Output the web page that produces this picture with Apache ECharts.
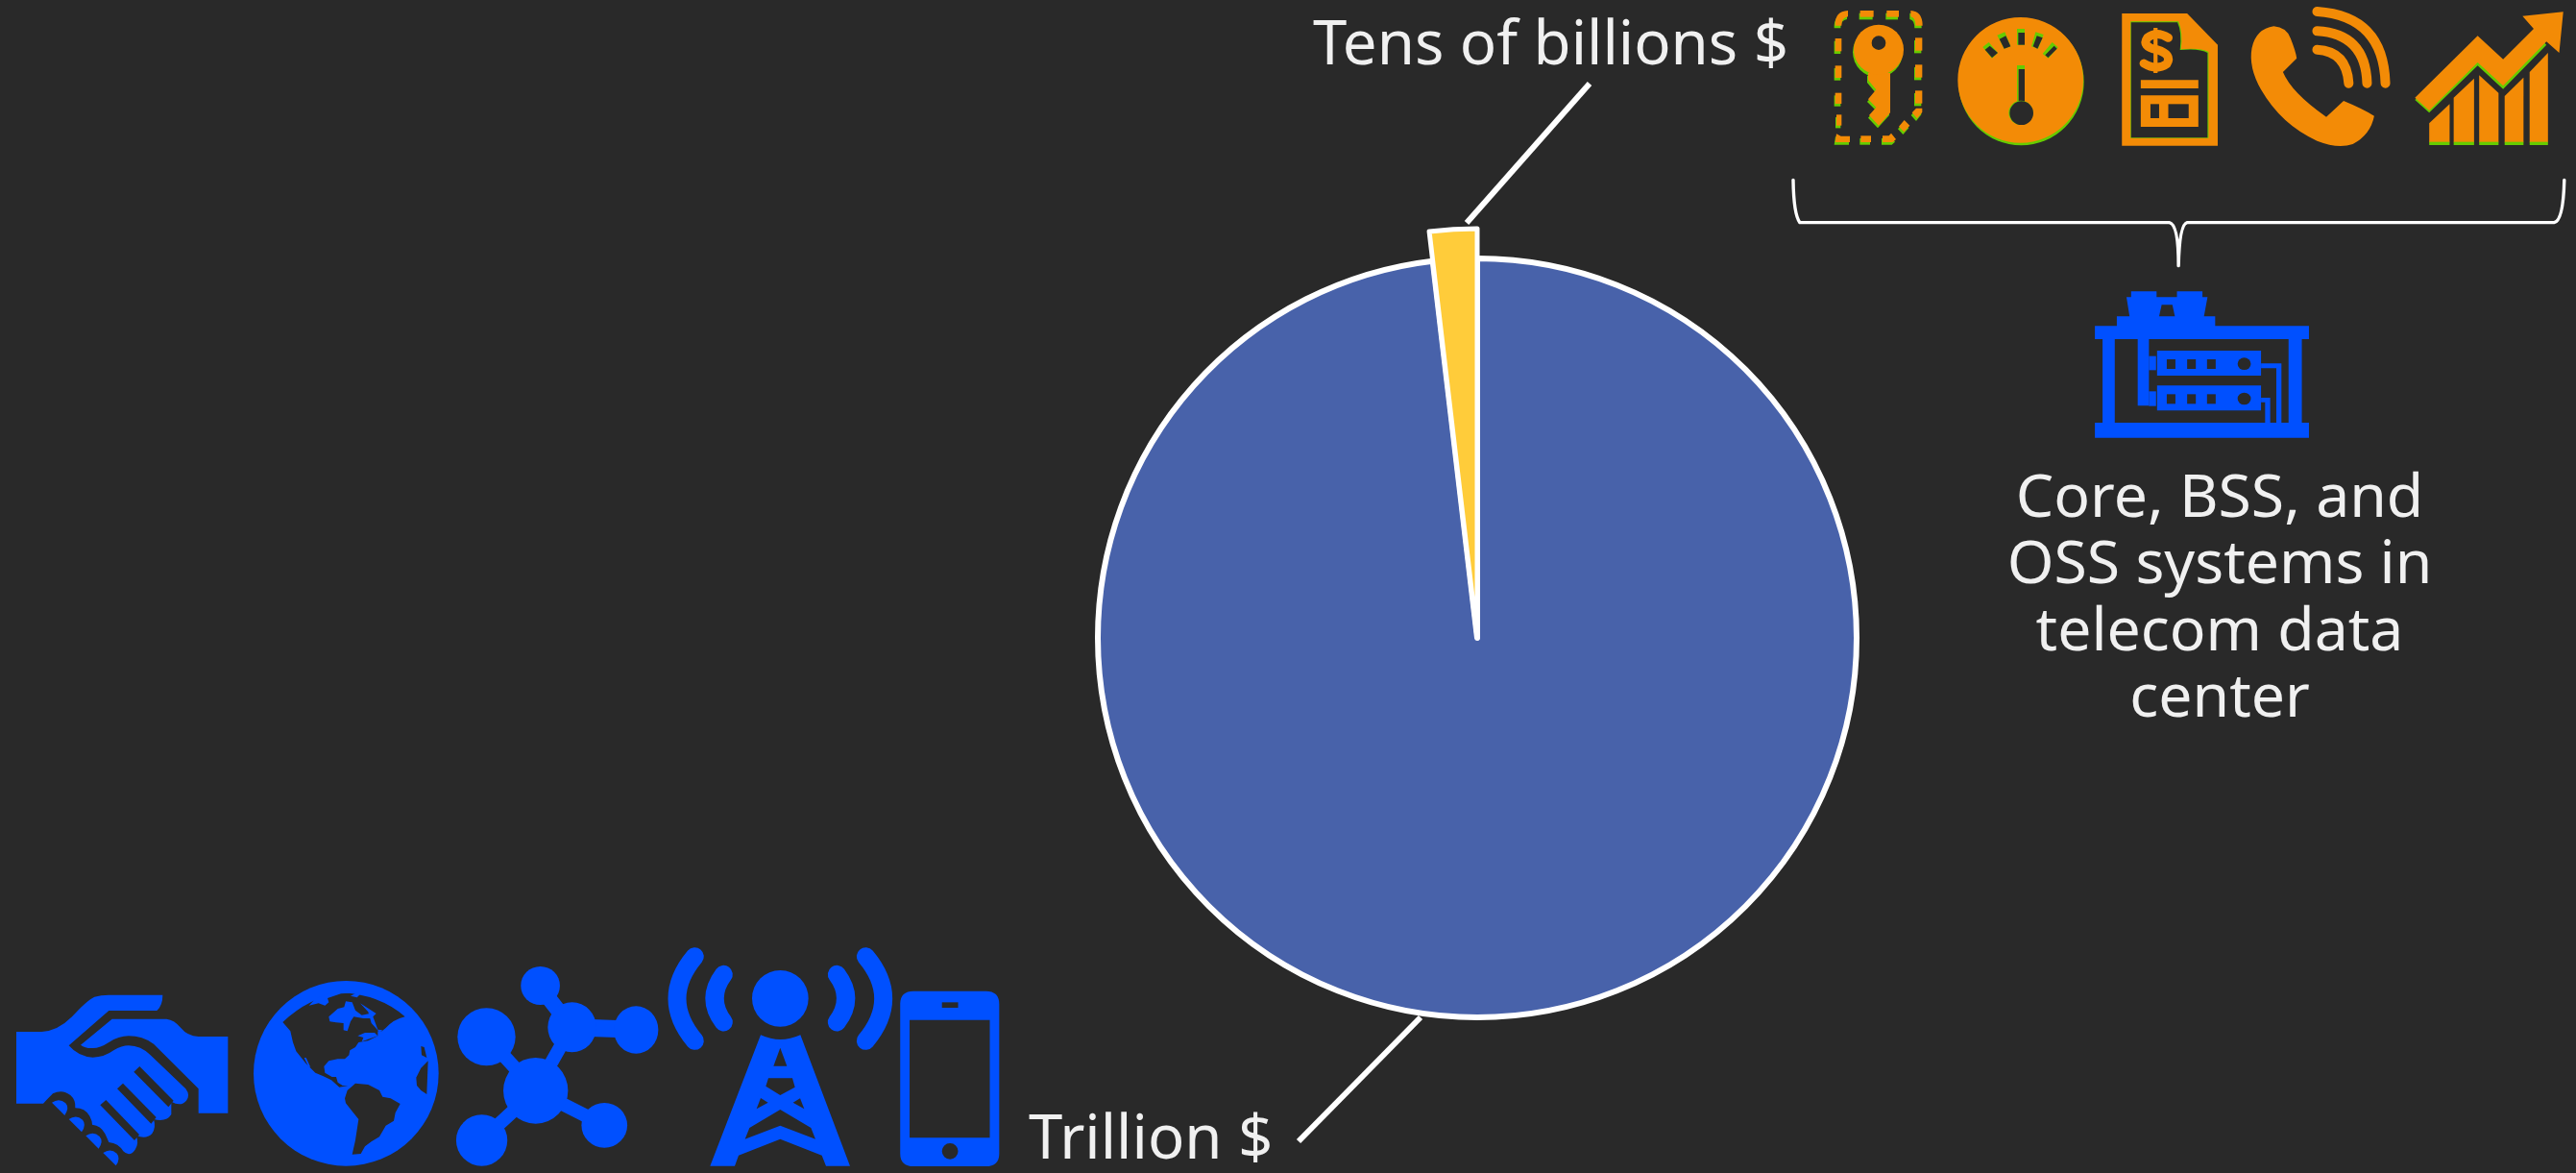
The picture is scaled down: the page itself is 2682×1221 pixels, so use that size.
<!DOCTYPE html>
<html><head><meta charset="utf-8">
<style>html,body{margin:0;padding:0;background:#292929}#c{width:2682px;height:1221px}</style>
<script src="https://cdn.jsdelivr.net/npm/echarts@6/dist/echarts.min.js"></script>
</head><body><div id="c"></div>
<script>
const categories = ['Trillion $', 'Tens of billions $'];
const shares = [98.13, 1.87];
const sliceColors = ['#4862AA', '#FFCC3A'];
const sideNote = 'Core, BSS, and\nOSS systems in\ntelecom data\ncenter';

const BG='#292929', OR='#F38B06', GR='#66CC00', BL='#0050FF', W='#FFFFFF', TXT='#F0F0F0';
const FONT='"Noto Sans"';
const r=(x,y,w,h)=>`M${x} ${y} H${x+w} V${y+h} H${x} Z`;
const e=(x,y,a,b)=>`M${x-a} ${y} A${a} ${b} 0 1 1 ${x+a} ${y} A${a} ${b} 0 1 1 ${x-a} ${y} Z`;
const f=(d,c)=>({d,fill:c});
const s=(d,c,w)=>({d,stroke:c,w});

// ---- key and gauge, in crop units (1900+x/3, y/3)
const keyBits=[
 'M32 80 Q30 35 72 33 V52 Q52 55 52 80 Z',r(110,33,42,20),r(193,33,38,20),'M268 33 Q305 35 305 80 H283 Q283 55 268 52 Z',
 r(32,120,20,40),r(32,205,20,38),r(32,290,20,34),r(36,358,16,34),
 r(282,118,22,40),r(282,202,22,40),r(282,283,22,40),'M272 352 L285 338 H304 V350 L288 370 Z','M248 375 L265 392 L247 412 L231 395 Z',
 'M36 418 L50 425 H78 V444 H32 Z',r(112,424,32,20),'M180 424 H200 L207 416 L222 435 L212 444 H180 Z',
 'M135 228 V250 L160 280 L135 310 L160 335 L138 360 L168 392 L204 352 V228 Z',e(168,155,78,78)];
const gaugeBits=[
 f(e(613,256,196,198),GR),f(e(611,250,196,196),OR),
 f('M493 147 L512 132 L540 165 L522 182 Z',GR),f('M538 110 L562 100 L580 145 L560 152 Z',GR),f(r(600,90,24,50),GR),f('M658 100 L683 108 L666 152 L645 145 Z',GR),f('M710 132 L728 148 L698 182 L680 168 Z',GR),
 f('M500 155 L515 143 L540 165 L522 180 Z',BG),f('M545 122 L565 112 L580 145 L560 152 Z',BG),f(r(604,102,20,38),BG),f('M662 112 L680 118 L664 152 L650 145 Z',BG),f('M716 143 L725 152 L697 180 L688 172 Z',BG),
 f(r(600,204,24,12),GR),f(r(600,216,5,105),GR),f(r(605,216,19,110),BG),f(e(612,352,38,38),GR),f(e(614,353,37,37),BG)];

// ---- other top-right icons, in crop units (x/1.8846+1850, y/3)
const billIcon=[
 f('M677 42 H805 L865 140 V455 H677 Z',OR),
 f('M694 67 H788 Q797 100 793 154 Q830 148 847 162 V431 H694 Z',GR),
 f('M695 70 H786 Q795 100 791 156 Q830 150 845 165 V430 H695 Z',BG),
 s('M768 118 Q745 95 727 118 Q715 145 745 155 Q777 170 765 200 Q745 222 720 198',OR,9),f(r(739,87,8,141),OR),
 f(r(714,250,113,26),OR),f(r(714,298,113,98),OR),f(r(733,325,17,44),BG),f(r(768,325,40,44),BG)];
const phoneIcon=[
 f('M975 82 Q1000 85 1008 120 Q1018 160 1020 182 L993 225 Q1010 290 1078 365 L1112 315 Q1150 340 1172 362 Q1165 420 1130 450 Q1100 465 1060 440 Q990 390 950 280 Q925 210 932 150 Q940 90 975 82 Z',OR),
 s('M1060 155 Q1118 160 1122 260',OR,10),s('M1060 97 Q1155 105 1158 260',OR,10),s('M1060 36 Q1190 50 1194 260',OR,10)];
const growthIcon=[
 f('M1252 312 L1375 122 L1425 195 L1485 100 L1510 140 L1425 278 L1375 205 L1280 352 Z',GR),
 f('M1252 305 L1375 112 L1425 185 L1485 90 L1463 50 L1543 37 L1535 165 L1510 130 L1425 268 L1375 195 L1280 345 Z',OR),
 ...[['M1280 385 L1320 325 V445 H1280 Z',1280,40],['M1328 305 L1368 245 V445 H1328 Z',1328,40],['M1378 235 L1416 290 V445 H1378 Z',1378,38],['M1428 300 L1465 242 V445 H1428 Z',1428,37],['M1477 225 L1513 165 V445 H1477 Z',1477,36]]
 .flatMap(b=>[f(b[0],OR),f(r(b[1],443,b[2],10),GR)])];
const serverIcon=[
 f('M695 910 H745 V928 H785 V910 H835 V928 H845 L838 988 H860 V1018 H1044 V1059 H1030 V1320 H1044 V1367 H624 V1320 H639 V1059 H624 V1018 H667 V988 H692 L686 928 H695 Z',BL),
 f(r(663,1059,341,261),BG),f('M755 952 H776 L781 988 H750 Z',BG),
 f(r(708,1059,22,208),BL),f(r(730,1112,14,44),BL),f(r(730,1222,14,46),BL),
 f(r(746,1095,204,78),BL),f(r(746,1204,204,78),BL),
 ...[0,109].flatMap(o=>[f(r(765,1122+o,17,30),BG),f(r(805,1122+o,17,30),BG),f(r(844,1122+o,17,30),BG),f(e(917,1136+o,13,19),BG)]),
 f('M950 1135 H990 V1320 H980 V1150 H950 Z',BL),f('M950 1242 H968 V1320 H958 V1256 H950 Z',BL)];
const brace=[s('M32 562 Q33 670 45 695 H770 Q788 700 788 830 Q790 700 805 695 H1525 Q1543 690 1545 562',W,3.4)];

// ---- handshake, in crop units (10+x/3, 1025+y/3)
const shakeIcon=[
 f('M21 147 H100 Q150 145 195 100 Q240 50 265 38 Q285 32 310 32 H478 Q478 65 460 81 H310 L185 190 Q215 225 260 227 Q295 227 325 205 Q350 190 372 190 Q410 190 440 220 L550 325 Q565 345 552 362 Q535 382 505 365 L505 405 Q490 430 450 420 Q458 445 445 465 Q425 485 395 470 Q405 495 392 515 Q375 540 355 520 Q340 495 310 492 Q305 480 298 465 Q285 440 258 437 Q258 425 250 410 Q235 385 205 385 Q207 360 190 345 Q165 325 135 340 Q125 350 105 371 H21 Z',BL),
 f('M320 107 H490 Q515 110 535 135 Q555 160 590 162 H682 V401 H590 V325 L450 185 Q415 160 372 160 Q340 160 310 180 Q280 200 255 198 Q235 198 222 188 Z',BL),
 f('M388 272 L406 255 L512 362 L496 382 Z',BG),f('M336 325 L354 308 L458 414 L442 434 Z',BG),f('M283 376 L301 360 L405 468 L390 486 Z',BG),
 ...[[0,0],[53,52],[106,104],[160,157]].map(([x,y])=>f(`M${132+x} ${368+y} Q${155+x} ${352+y} ${175+x} ${370+y} Q${188+x} ${385+y} ${172+x} ${408+y} Z`,BL))];

// ---- globe, in crop units (255+x/3, 1015+y/3)
const globeIcon=[
 f(e(316,307,289,289),BL),
 f('M118 147 Q200 70 300 55 Q420 60 500 130 Q465 138 440 165 L428 175 L415 175 L415 190 L385 205 L355 210 L345 225 L328 235 L325 250 L312 262 L290 262 L262 268 L247 285 L250 305 L272 318 L285 318 L290 335 L305 345 L322 345 L295 350 L270 328 L245 316 L220 305 L205 290 L190 275 L160 238 L150 210 L142 175 Z',BG),
 f('M262 130 L290 105 L310 100 L315 82 L335 85 L345 110 L365 125 L390 120 L395 135 L370 135 L340 130 L330 145 L320 175 L308 172 L308 150 L285 148 L265 145 Z',BL),
 f('M360 88 L410 120 L400 130 L415 170 L430 172 L420 178 L395 150 L385 115 Z',BL),
 f('M200 95 L230 88 L250 95 L262 85 L258 72 L300 58 L350 55 L330 65 L350 70 L362 58 L300 45 L222 72 Z',BL),
 f('M352 190 L375 180 L405 180 L415 190 L385 200 L365 208 L370 195 Z',BL),
 f('M185 258 L191 258 L205 288 L198 285 Z',BL),
 f('M312 385 L320 360 L345 338 L385 342 L420 360 L430 380 L455 385 L485 402 L470 430 L465 455 L440 470 L420 505 L395 520 L375 535 L362 558 L335 560 L345 515 L355 450 L335 425 L315 400 Z',BG),
 f('M535 320 L550 290 L572 268 L568 372 L550 360 L537 345 Z',BG),f('M550 222 L560 225 L568 258 L552 250 Z',BG)];

// ---- network and handset, in crop units (x/1.4255, 960+y/3)
const netIcon=[
 s('M800 198 L848 328',BL,16),s('M848 328 L945 335',BL,18),s('M722 358 L795 525',BL,14),s('M848 328 L795 525',BL,14),s('M795 525 L897 634',BL,14),s('M795 525 L715 680',BL,14),
 f(e(802,198,29,60),BL),f(e(849,328,36,78),BL),f(e(944,336,33,74),BL),f(e(722,358,43,90),BL),f(e(795,526,48,103),BL),f(e(897,634,34,70),BL),f(e(715,681,38,80),BL)];
const mobileIcon=[
 f('M1336 255 Q1336 215 1356 215 H1463 Q1483 215 1483 255 V722 Q1483 762 1463 762 H1356 Q1336 762 1336 722 Z',BL),
 f(r(1350,305,119,368),BG),f(r(1398,250,24,17),BG),f(e(1410,715,12,25),BG)];

// ---- tower, in crop units (690+x/3, 975+y/3)
const towerIcon=[
 f(e(367,193,88,88),BL),
 s('M190 118 Q134 193 190 267',BL,19),s('M100 62 Q-10 193 100 325',BL,19),s('M544 118 Q600 193 544 267',BL,19),s('M634 62 Q744 193 634 325',BL,19),
 f('M306 307 Q367 335 430 307 L585 716 H510 L497 683 L367 632 L237 683 L225 716 H148 Z',BL),
 f('M367 347 L388 404 H346 Z',BG),f('M330 442 H405 L413 470 L367 495 L322 467 Z',BG),
 f('M306 504 L329 518 L293 538 Z',BG),f('M429 505 L442 538 L407 518 Z',BG),
 f('M367 540 L463 597 L477 632 L367 590 L257 632 L271 597 Z',BG)];

// map crop units to pixels so stroke widths stay even
function place(d,sx,sy,ox,oy){
 const t=d.match(/[MLHVQAZ]|-?[\d.]+/g);let out=[],i=0;
 const X=v=>+v*sx+ox,Y=v=>+v*sy+oy;
 let c='';
 while(i<t.length){
  if(/[A-Z]/.test(t[i])) {c=t[i++];if(c==='Z'){out.push('Z');continue;}}
  if(c==='M'||c==='L'){out.push(c,X(t[i++]),Y(t[i++]));}
  else if(c==='H'){out.push('H',X(t[i++]));}
  else if(c==='V'){out.push('V',Y(t[i++]));}
  else if(c==='Q'){out.push('Q',X(t[i++]),Y(t[i++]),X(t[i++]),Y(t[i++]));}
  else if(c==='A'){const a=+t[i++]*sx,b=+t[i++]*sy,ro=t[i++],l=t[i++],sw=t[i++];out.push('A',a,b,ro,l,sw,X(t[i++]),Y(t[i++]));}
 }
 return out.join(' ');
}
const T=1/3;
const TOP=[1/1.8846,T,1850,0], LOW=[1/1.4255,T,0,960], KEY=[T,T,1900,0], KEYG=[T,T,1899,2.7];
const decor=[
 ...keyBits.map(d=>[f(d,GR),KEYG]),
 ...keyBits.map(d=>[f(d,OR),KEY]),
 [f(e(168,134,22,22),BG),KEY],
 ...gaugeBits.map(o=>[o,KEY]),
 ...[billIcon,phoneIcon,growthIcon,serverIcon,brace].flat().map(o=>[o,TOP]),
 ...shakeIcon.map(o=>[o,[T,T,10,1025]]),
 ...globeIcon.map(o=>[o,[T,T,255,1015]]),
 ...towerIcon.map(o=>[o,[T,T,690,975]]),
 ...[netIcon,mobileIcon].flat().map(o=>[o,LOW])
];

const chart=echarts.init(document.getElementById('c'),null,{renderer:'canvas'});
const labelLayouts=[{x:1071,y:1188,align:'left',verticalAlign:'middle'},{x:1367,y:49,align:'left',verticalAlign:'middle'}];
function pieSeries(active,radius,width,z){
 return {type:'pie',center:[1538,664],radius:[0,radius],startAngle:90,clockwise:true,z,silent:true,
  avoidLabelOverlap:false,labelLine:{show:false},
  labelLayout:p=>labelLayouts[p.dataIndex],
  data:categories.map((n,i)=>({name:n,value:shares[i],
   itemStyle:i===active?{color:sliceColors[i],borderColor:W,borderWidth:width,borderJoin:'round'}:{color:'transparent',borderWidth:0},
   label:i===active?{show:true,formatter:'{b}',color:TXT,fontFamily:FONT,fontSize:63.5}:{show:false}
  }))};
}
chart.setOption({
 animation:false,backgroundColor:BG,
 series:[
  pieSeries(0,395,6,2),pieSeries(1,426,5,3),
  {type:'custom',coordinateSystem:'none',silent:true,z:5,data:[[0]],
   renderItem:()=>({type:'group',children:decor.map(([o,m])=>({type:'path',shape:{pathData:place(o.d,...m)},
     style:o.fill?{fill:o.fill,stroke:null}:{fill:null,stroke:o.stroke,lineWidth:o.w,lineCap:'round',lineJoin:'round'}}))})}
 ],
 graphic:[
  {type:'line',z:6,shape:{x1:1655,y1:87,x2:1527,y2:232},style:{stroke:W,lineWidth:6}},
  {type:'line',z:6,shape:{x1:1352,y1:1188,x2:1479,y2:1059},style:{stroke:W,lineWidth:6}},
  {type:'text',z:6,x:2311,y:485,style:{text:sideNote,fill:TXT,font:'62.5px '+FONT,lineHeight:69.5,textAlign:'center',textVerticalAlign:'top'}}
 ]
});
</script></body></html>
